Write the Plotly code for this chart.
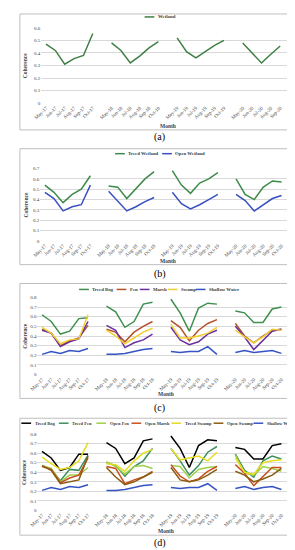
import plotly.graph_objects as go

W, H = 295, 550
FONT = "Liberation Serif"

months = ["May", "Jun", "Jul", "Aug", "Sep", "Oct"]
years = ["17", "18", "19", "20"]

# ---------------- data ----------------
# panel (a)
a_names = ["Wetland"]
a_wetland = [[0.47, 0.42, 0.31, 0.355, 0.38, 0.555],
             [0.48, 0.42, 0.32, 0.375, 0.44, 0.49],
             [0.52, 0.41, 0.36, 0.41, 0.46, 0.50],
             [0.48, 0.40, 0.32, 0.39, 0.455]]
a_months_per_year = [6, 6, 6, 5]

# panel (b)
b_names = ["Treed Wetland", "Open Wetland"]
b_treed = [[0.54, 0.47, 0.37, 0.45, 0.50, 0.63],
           [0.53, 0.52, 0.41, 0.51, 0.60, 0.67],
           [0.68, 0.54, 0.46, 0.56, 0.60, 0.66],
           [0.60, 0.45, 0.40, 0.52, 0.58, 0.57]]
b_open = [[0.47, 0.41, 0.29, 0.33, 0.35, 0.54],
          [0.48, 0.39, 0.29, 0.33, 0.38, 0.42],
          [0.47, 0.36, 0.31, 0.35, 0.40, 0.45],
          [0.45, 0.39, 0.29, 0.35, 0.41, 0.44]]

# panel (c)
c_names = ["Treed Bog", "Fen", "Marsh", "Swamp", "Shallow Water"]
c_treed_bog = [[0.62, 0.55, 0.42, 0.45, 0.58, 0.59],
               [0.71, 0.65, 0.49, 0.55, 0.73, 0.75],
               [0.78, 0.64, 0.45, 0.69, 0.74, 0.73],
               [0.66, 0.64, 0.54, 0.54, 0.68, 0.70]]
c_fen = [[0.47, 0.43, 0.30, 0.35, 0.38, 0.51],
         [0.47, 0.44, 0.34, 0.44, 0.50, 0.55],
         [0.56, 0.49, 0.35, 0.46, 0.53, 0.57],
         [0.53, 0.40, 0.33, 0.40, 0.46, 0.47]]
c_marsh = [[0.46, 0.43, 0.29, 0.34, 0.37, 0.55],
           [0.51, 0.46, 0.28, 0.33, 0.36, 0.42],
           [0.49, 0.36, 0.31, 0.34, 0.42, 0.46],
           [0.50, 0.39, 0.26, 0.36, 0.45, 0.47]]
c_swamp = [[0.49, 0.43, 0.32, 0.36, 0.37, 0.62],
           [0.46, 0.40, 0.32, 0.38, 0.44, 0.48],
           [0.52, 0.38, 0.38, 0.40, 0.43, 0.49],
           [0.46, 0.39, 0.33, 0.39, 0.47, 0.46]]
c_shallow = [[0.21, 0.24, 0.22, 0.25, 0.24, 0.27],
             [0.21, 0.21, 0.22, 0.24, 0.26, 0.27],
             [0.24, 0.23, 0.24, 0.24, 0.29, 0.21],
             [0.23, 0.25, 0.23, 0.24, 0.25, 0.22]]

# panel (d)
d_names = ["Treed Bog", "Treed Fen", "Open Fen", "Open Marsh",
           "Treed Swamp", "Open Swamp", "Shallow Water"]
d_treed_bog = [[0.62, 0.55, 0.42, 0.45, 0.59, 0.59],
               [0.71, 0.65, 0.49, 0.55, 0.73, 0.75],
               [0.78, 0.65, 0.45, 0.68, 0.74, 0.73],
               [0.66, 0.64, 0.54, 0.54, 0.68, 0.70]]
d_treed_fen = [[0.47, 0.43, 0.31, 0.43, 0.42, 0.58],
               [0.50, 0.47, 0.36, 0.46, 0.52, 0.65],
               [0.65, 0.52, 0.37, 0.47, 0.61, 0.67],
               [0.59, 0.42, 0.35, 0.52, 0.57, 0.54]]
d_open_fen = [[0.47, 0.44, 0.30, 0.37, 0.37, 0.45],
              [0.51, 0.46, 0.38, 0.46, 0.47, 0.44],
              [0.47, 0.46, 0.34, 0.43, 0.45, 0.46],
              [0.58, 0.39, 0.37, 0.46, 0.44, 0.41]]
d_open_marsh = [[0.46, 0.43, 0.29, 0.34, 0.37, 0.55],
                [0.46, 0.44, 0.28, 0.32, 0.35, 0.41],
                [0.48, 0.36, 0.30, 0.33, 0.41, 0.46],
                [0.48, 0.39, 0.26, 0.36, 0.45, 0.45]]
d_treed_swamp = [[0.56, 0.49, 0.43, 0.45, 0.52, 0.71],
                 [0.49, 0.48, 0.41, 0.52, 0.60, 0.64],
                 [0.65, 0.53, 0.55, 0.57, 0.52, 0.61],
                 [0.55, 0.40, 0.38, 0.50, 0.52, 0.53]]
d_open_swamp = [[0.47, 0.42, 0.28, 0.30, 0.32, 0.57],
                [0.45, 0.35, 0.27, 0.30, 0.35, 0.40],
                [0.45, 0.32, 0.30, 0.32, 0.37, 0.43],
                [0.41, 0.37, 0.30, 0.33, 0.37, 0.44]]
d_shallow = [[0.21, 0.24, 0.22, 0.25, 0.24, 0.27],
             [0.21, 0.21, 0.22, 0.24, 0.26, 0.27],
             [0.24, 0.23, 0.24, 0.24, 0.28, 0.21],
             [0.23, 0.25, 0.22, 0.24, 0.25, 0.22]]

# ---------------- styles / layout ----------------
panels = [
    dict(label="(a)", names=a_names, values=[a_wetland], colors=["#3f7f45"],
         ymax=0.6, box=(4, 289, 4, 121), plot_x=(26, 286), plot_y=(18, 94),
         legend_y=7, legend_font=4.8, month_y=117, coh_x=10, caption_y=128),
    dict(label="(b)", names=b_names, values=[b_treed, b_open],
         colors=["#3d8b4a", "#3a4fc0"],
         ymax=0.7, box=(4, 289, 140, 257), plot_x=(25, 287), plot_y=(160, 233),
         legend_y=145, legend_font=4.8, month_y=253, coh_x=10, caption_y=266),
    dict(label="(c)", names=c_names,
         values=[c_treed_bog, c_fen, c_marsh, c_swamp, c_shallow],
         colors=["#3f8f4f", "#b5522a", "#6a2fa0", "#f2cf30", "#3553c4"],
         ymax=0.8, box=(4, 289, 276, 392), plot_x=(22, 287), plot_y=(290, 368),
         legend_y=282, legend_font=4.8, month_y=388, coh_x=9, caption_y=402),
    dict(label="(d)", names=d_names,
         values=[d_treed_bog, d_treed_fen, d_open_fen, d_open_marsh,
                 d_treed_swamp, d_open_swamp, d_shallow],
         colors=["#000000", "#3f8f5f", "#9fd04a", "#c8501e", "#e6dc20",
                 "#8a5a10", "#3553c4"],
         ymax=0.8, box=(4, 289, 412, 530), plot_x=(22, 287), plot_y=(428, 505),
         legend_y=417, legend_font=4.5, month_y=526, coh_x=9, caption_y=538),
]
panels[0]["months_per_year"] = a_months_per_year
for p in panels[1:]:
    p["months_per_year"] = [6, 6, 6, 6]

LEG_LINE = 10      # legend sample length (px)
LEG_PAD = 1.5      # gap sample -> text
LEG_GAP = 5        # gap between entries
CHAR_W = 2.45      # approx. rendered width per character (px)


def px_x(v):
    return v / W


def px_y(v):
    return 1 - v / H


fig = go.Figure()
shapes, annotations = [], []
layout_axes = {}

for i, p in enumerate(panels, start=1):
    xa = "x" if i == 1 else f"x{i}"
    ya = "y" if i == 1 else f"y{i}"
    tickvals, ticktext = [], []
    pos = 0
    group_pos = []
    for yr, n in zip(years, p["months_per_year"]):
        gp = []
        for m in range(n):
            tickvals.append(pos + m)
            ticktext.append(f"{months[m]}-{yr}")
            gp.append(pos + m)
        group_pos.append(gp)
        pos += n + 1
    ncat = pos - 1

    for name, vals, color in zip(p["names"], p["values"], p["colors"]):
        xs, ys = [], []
        for gp, gv in zip(group_pos, vals):
            xs.extend(gp[:len(gv)])
            ys.extend(gv)
            xs.append(None)
            ys.append(None)
        fig.add_trace(go.Scatter(x=xs, y=ys, mode="lines", name=name,
                                 line=dict(color=color, width=1.5),
                                 xaxis=xa, yaxis=ya, showlegend=False,
                                 hoverinfo="skip"))

    x0, x1, y0, y1 = p["box"]
    shapes.append(dict(type="rect", xref="paper", yref="paper",
                       x0=px_x(x0), x1=px_x(x1), y0=px_y(y1), y1=px_y(y0),
                       line=dict(color="#bfbfbf", width=1),
                       fillcolor="white", layer="below"))

    key = "" if i == 1 else str(i)
    nt = int(round(p["ymax"] * 10))
    layout_axes["xaxis" + key] = dict(
        domain=[px_x(p["plot_x"][0]), px_x(p["plot_x"][1])],
        anchor=ya, range=[-0.5, ncat + 0.5], tickvals=tickvals,
        ticktext=ticktext, tickangle=-45, showgrid=False, zeroline=False,
        showline=False, ticks="", fixedrange=True,
        tickfont=dict(family=FONT, size=5, color="#404040"))
    layout_axes["yaxis" + key] = dict(
        domain=[px_y(p["plot_y"][1]), px_y(p["plot_y"][0])],
        anchor=xa, range=[0, p["ymax"]],
        tickvals=[round(k * 0.1, 1) for k in range(nt + 1)],
        ticktext=["0" if k == 0 else f"{k * 0.1:.1f}" for k in range(nt + 1)],
        showgrid=True, gridcolor="#d9d9d9", gridwidth=0.7, zeroline=False,
        showline=False, ticks="", fixedrange=True,
        tickfont=dict(family=FONT, size=5, color="#404040"))

    # compact manual legend, centred over the panel
    widths = [LEG_LINE + LEG_PAD + len(n) * CHAR_W for n in p["names"]]
    total = sum(widths) + LEG_GAP * (len(widths) - 1)
    lx = (x0 + x1) / 2 - total / 2
    ly = px_y(p["legend_y"])
    for name, color, w in zip(p["names"], p["colors"], widths):
        shapes.append(dict(type="line", xref="paper", yref="paper",
                           x0=px_x(lx), x1=px_x(lx + LEG_LINE), y0=ly, y1=ly,
                           line=dict(color=color, width=1.5)))
        annotations.append(dict(x=px_x(lx + LEG_LINE + LEG_PAD), y=ly,
                                xref="paper", yref="paper",
                                text=f"<b>{name}</b>", showarrow=False,
                                xanchor="left", yanchor="middle",
                                font=dict(family=FONT, size=p["legend_font"],
                                          color="#404040")))
        lx += w + LEG_GAP

    annotations.append(dict(x=px_x((p["plot_x"][0] + p["plot_x"][1]) / 2),
                            y=px_y(p["month_y"]), xref="paper", yref="paper",
                            text="<b>Month</b>", showarrow=False,
                            xanchor="center", yanchor="middle",
                            font=dict(family=FONT, size=5.5, color="#404040")))
    annotations.append(dict(x=px_x(p["coh_x"]),
                            y=px_y((p["plot_y"][0] + p["plot_y"][1]) / 2),
                            xref="paper", yref="paper", text="<b>Coherence</b>",
                            textangle=-90, showarrow=False, xanchor="center",
                            yanchor="middle",
                            font=dict(family=FONT, size=5.5, color="#404040")))
    annotations.append(dict(x=0.5, y=px_y(p["caption_y"]), xref="paper",
                            yref="paper", text=p["label"], showarrow=False,
                            xanchor="center", yanchor="middle",
                            font=dict(family=FONT, size=10, color="#000000")))

fig.update_layout(width=W, height=H, margin=dict(l=0, r=0, t=0, b=0),
                  paper_bgcolor="white", plot_bgcolor="rgba(0,0,0,0)",
                  showlegend=False, shapes=shapes, annotations=annotations,
                  **layout_axes)

fig.write_html("out.html", config={"displayModeBar": False})
